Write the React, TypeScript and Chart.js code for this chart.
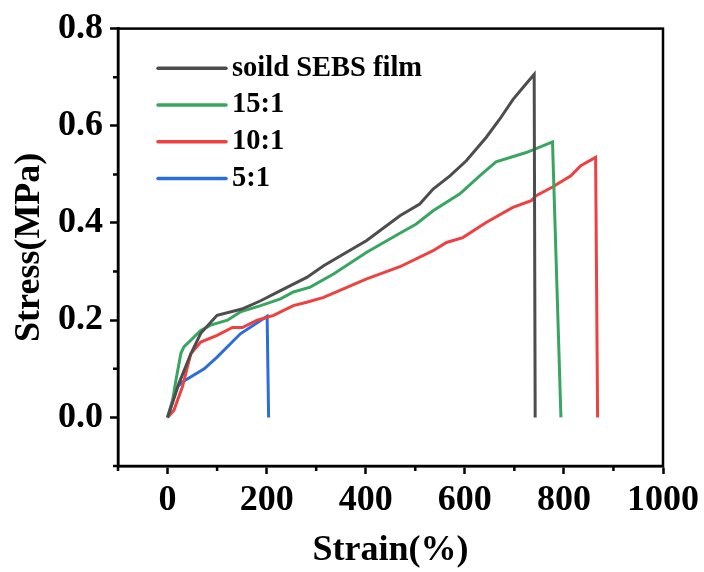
import React, { useEffect, useRef } from 'react';
import { Chart, registerables } from 'chart.js';

Chart.register(...registerables);

const seriesLabels = ['soild SEBS film', '15:1', '10:1', '5:1'];
const seriesColors = ['#4d4d4d', '#38a660', '#ec4242', '#2a6ddb'];

const soildStrain = [0, 10, 23, 47, 67, 100, 150, 188, 228, 281, 315, 402, 469, 509, 536, 570, 603, 643, 670, 697, 720, 740, 742];
const soildStress = [0, 0.03, 0.07, 0.131, 0.173, 0.21, 0.223, 0.24, 0.261, 0.288, 0.312, 0.364, 0.415, 0.439, 0.47, 0.497, 0.528, 0.576, 0.613, 0.654, 0.682, 0.706, 0];

const r15Strain = [0, 10, 17, 27, 33, 67, 87, 121, 147, 188, 228, 254, 288, 335, 402, 469, 502, 536, 590, 630, 663, 724, 777, 794];
const r15Stress = [0, 0.035, 0.077, 0.132, 0.145, 0.179, 0.19, 0.2, 0.217, 0.23, 0.244, 0.258, 0.268, 0.295, 0.34, 0.379, 0.398, 0.425, 0.46, 0.497, 0.526, 0.545, 0.567, 0];

const r10Strain = [0, 13, 30, 47, 67, 100, 131, 151, 181, 214, 254, 281, 315, 402, 469, 536, 563, 596, 643, 697, 734, 744, 777, 814, 834, 864, 868];
const r10Stress = [0, 0.015, 0.063, 0.131, 0.155, 0.169, 0.185, 0.185, 0.2, 0.21, 0.23, 0.237, 0.247, 0.285, 0.31, 0.343, 0.36, 0.37, 0.401, 0.432, 0.446, 0.456, 0.474, 0.497, 0.518, 0.535, 0];

const r5Strain = [0, 20, 30, 74, 100, 147, 201, 204];
const r5Stress = [0, 0.063, 0.073, 0.1, 0.124, 0.172, 0.208, 0];

const xTickValues = [0, 200, 400, 600, 800, 1000];
const xMinorValues = [-100, 100, 300, 500, 700, 900];
const yTickValues = [0, 0.2, 0.4, 0.6, 0.8];
const yMinorValues = [-0.1, 0.1, 0.3, 0.5, 0.7];

const FONT = "'Liberation Serif', 'Times New Roman', serif";

const strainSets = [soildStrain, r15Strain, r10Strain, r5Strain];
const stressSets = [soildStress, r15Stress, r10Stress, r5Stress];

const framePlugin = {
  id: 'frameAndMinor',
  afterDraw(chart: any) {
    const { ctx, chartArea, scales } = chart;
    ctx.save();
    ctx.strokeStyle = '#000';
    ctx.lineWidth = 2.5;
    ctx.strokeRect(chartArea.left, chartArea.top, chartArea.right - chartArea.left, chartArea.bottom - chartArea.top);
    ctx.beginPath();
    xMinorValues.forEach((v) => {
      const px = scales.x.getPixelForValue(v);
      ctx.moveTo(px, chartArea.bottom);
      ctx.lineTo(px, chartArea.bottom + 5);
    });
    yMinorValues.forEach((v) => {
      const py = scales.y.getPixelForValue(v);
      ctx.moveTo(chartArea.left, py);
      ctx.lineTo(chartArea.left - 5, py);
    });
    ctx.stroke();

    // legend
    const ds = chart.data.datasets;
    ds.forEach((d: any, i: number) => {
      const y = chartArea.top + 39.7 + i * 36.7;
      const x0 = chartArea.left + 40;
      ctx.strokeStyle = d.borderColor;
      ctx.lineWidth = 3.5;
      ctx.lineCap = 'round';
      ctx.beginPath();
      ctx.moveTo(x0, y);
      ctx.lineTo(x0 + 68, y);
      ctx.stroke();
      ctx.fillStyle = '#000';
      ctx.font = `bold 28.5px ${FONT}`;
      ctx.textBaseline = 'middle';
      ctx.textAlign = 'left';
      ctx.fillText(d.label, x0 + 74, y);
    });
    ctx.restore();
  },
};

export default function App() {
  const ref = useRef<HTMLCanvasElement | null>(null);
  useEffect(() => {
    if (!ref.current) return;
    const chart = new Chart(ref.current, {
      type: 'scatter',
      data: {
        datasets: seriesLabels.map((label, i) => ({
          label,
          data: strainSets[i].map((x, j) => ({ x, y: stressSets[i][j] })),
          showLine: true,
          borderColor: seriesColors[i],
          backgroundColor: seriesColors[i],
          borderWidth: 3,
          pointRadius: 0,
          tension: 0,
        })),
      },
      options: {
        animation: false,
        responsive: false,
        maintainAspectRatio: false,
        layout: { padding: { left: 8, top: 27, right: 40, bottom: 0 } },
        plugins: { legend: { display: false }, tooltip: { enabled: false } },
        scales: {
          x: {
            type: 'linear',
            min: -100,
            max: 1000,
            afterBuildTicks: (s: any) => {
              s.ticks = xTickValues.map((v) => ({ value: v }));
            },
            afterFit: (s: any) => {
              s.height = 106;
            },
            ticks: {
              color: '#000',
              padding: 5,
              font: { family: FONT, size: 36, weight: 'bold' },
              callback: (v: any) => String(v),
              maxRotation: 0,
            },
            grid: { drawOnChartArea: false, drawTicks: true, tickLength: 8, tickWidth: 2.5, tickColor: '#000' },
            border: { display: true, color: '#000', width: 2.5 },
            title: {
              display: true,
              text: 'Strain(%)',
              color: '#000',
              padding: { top: 0, bottom: 0 },
              font: { family: FONT, size: 36, weight: 'bold' },
            },
          },
          y: {
            type: 'linear',
            min: -0.1,
            max: 0.8,
            afterBuildTicks: (s: any) => {
              s.ticks = yTickValues.map((v) => ({ value: v }));
            },
            afterFit: (s: any) => {
              s.width = 110;
            },
            ticks: {
              color: '#000',
              padding: 7,
              font: { family: FONT, size: 36, weight: 'bold' },
              callback: (v: any) => Number(v).toFixed(1),
            },
            grid: { drawOnChartArea: false, drawTicks: true, tickLength: 8, tickWidth: 2.5, tickColor: '#000' },
            border: { display: true, color: '#000', width: 2.5 },
            title: {
              display: true,
              text: 'Stress(MPa)',
              color: '#000',
              padding: { top: 0, bottom: 0 },
              font: { family: FONT, size: 36, weight: 'bold' },
            },
          },
        },
      },
      plugins: [framePlugin],
    });
    return () => chart.destroy();
  }, []);
  return (
    <div style={{ position: 'fixed', left: 0, top: 0, width: 704, height: 572, background: '#fff' }}>
      <canvas ref={ref} width={704} height={572} style={{ width: 704, height: 572, display: 'block' }} />
    </div>
  );
}
